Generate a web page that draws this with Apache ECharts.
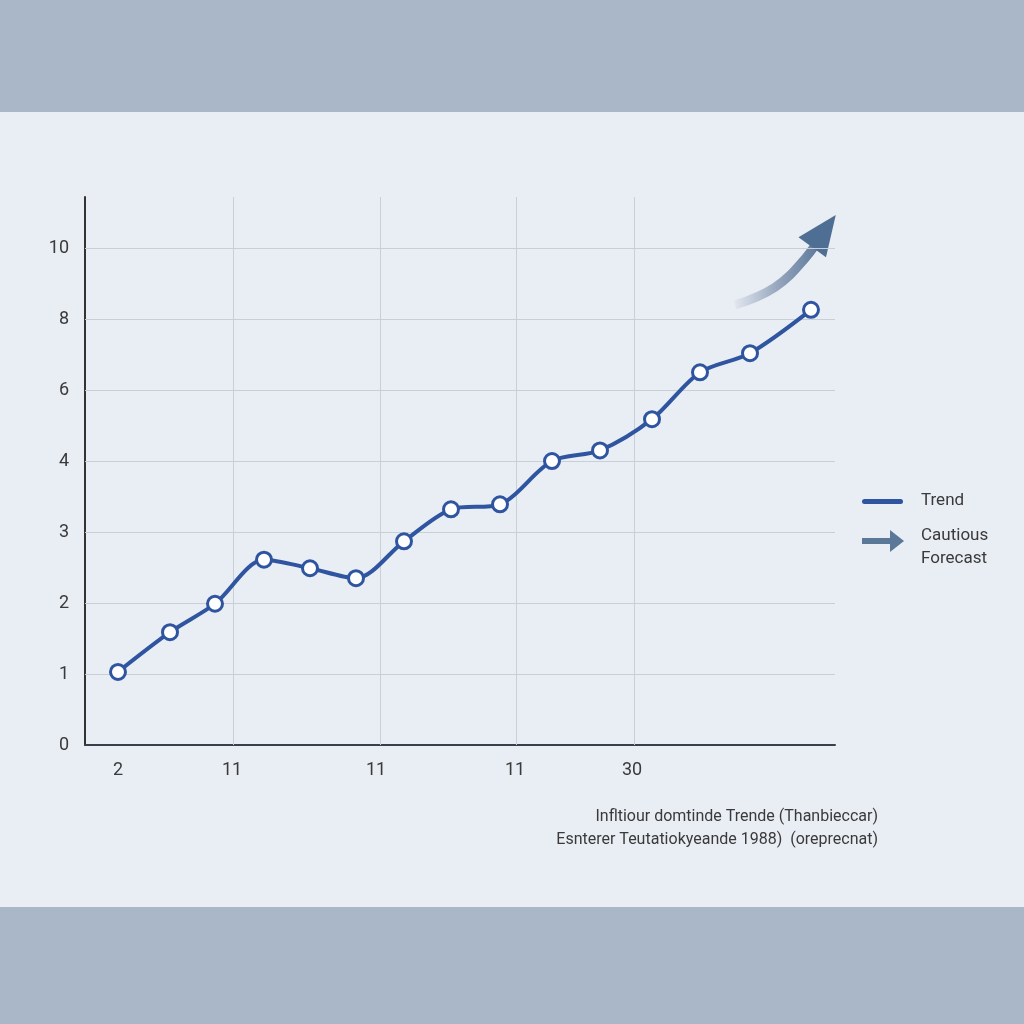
<!DOCTYPE html>
<html>
<head>
<meta charset="utf-8">
<script src="https://cdn.jsdelivr.net/npm/echarts@6/dist/echarts.min.js"></script>
<style>html,body{margin:0;padding:0;background:#e9edf4;}#c{width:1024px;height:1024px;}</style>
</head>
<body>
<div id="c"></div>
<script>
// Tick labels (y axis labels are equally spaced positions 0..7)
const yTickLabels = ['0', '1', '2', '3', '4', '6', '8', '10'];
const yGridPositions = [1, 2, 3, 4, 5, 6, 7];
const xTickPositions = [33, 147, 291, 430, 547];
const xTickLabels = ['2', '11', '11', '11', '30'];
const xGridPositions = [148, 295, 431, 549];

// Trend series (x position, y position on the displayed scale)
const trendX = [33, 85, 130, 179, 225, 271, 319, 366, 415, 467, 515, 567, 615, 665, 726];
const trendY = [1.03, 1.59, 1.99, 2.61, 2.49, 2.35, 2.87, 3.32, 3.39, 4.0, 4.15, 4.59, 5.25, 5.52, 6.13];

// Cautious forecast arrow path
const forecastX = [650, 690, 721, 739];
const forecastY = [6.20, 6.45, 6.87, 7.24];

const footnote1 = 'Infltiour domtinde Trende (Thanbieccar)';
const footnote2 = 'Esnterer Teutatiokyeande 1988)  (oreprecnat)';

const FONT = 'Roboto, "Noto Sans", sans-serif';
const chart = echarts.init(document.getElementById('c'));
const trendData = trendX.map((x, i) => [x, trendY[i]]);
const forecastData = forecastX.map((x, i) => {
  if (i === forecastX.length - 1) {
    return { value: [x, forecastY[i]], symbol: 'triangle', symbolSize: [34, 40], symbolRotate: -36 };
  }
  return { value: [x, forecastY[i]], symbol: 'none' };
});

const option = {
  backgroundColor: '#e9edf4',
  animation: false,
  graphic: [
    { type: 'rect', shape: { x: 0, y: 0, width: 1024, height: 112 }, style: { fill: '#aab7c9' }, z: -10 },
    { type: 'rect', shape: { x: 0, y: 907, width: 1024, height: 117 }, style: { fill: '#aab7c9' }, z: -10 },
    // legend
    { type: 'rect', shape: { x: 862, y: 499, width: 41, height: 5, r: 2.5 }, style: { fill: '#2f55a0' } },
    { type: 'text', style: { x: 921, y: 501, text: 'Trend', font: '17px ' + FONT, fill: '#3a3a3a', textVerticalAlign: 'middle' } },
    { type: 'rect', shape: { x: 862, y: 538, width: 30, height: 6 }, style: { fill: '#5b7898' } },
    { type: 'polygon', shape: { points: [[890, 530], [904, 541], [890, 552]] }, style: { fill: '#5b7898' } },
    { type: 'text', style: { x: 921, y: 536, text: 'Cautious', font: '17px ' + FONT, fill: '#3a3a3a', textVerticalAlign: 'middle' } },
    { type: 'text', style: { x: 921, y: 559, text: 'Forecast', font: '17px ' + FONT, fill: '#3a3a3a', textVerticalAlign: 'middle' } },
    // footnote
    { type: 'text', style: { x: 878, y: 817, text: footnote1, font: '16px ' + FONT, fill: '#3a3a3a', textAlign: 'right', textVerticalAlign: 'middle' } },
    { type: 'text', style: { x: 878, y: 840, text: footnote2, font: '16px ' + FONT, fill: '#3a3a3a', textAlign: 'right', textVerticalAlign: 'middle' } }
  ],
  grid: { left: 85, right: 189, top: 197, bottom: 279, containLabel: false },
  xAxis: {
    type: 'value', min: 0, max: 750,
    axisLine: { show: true, lineStyle: { color: '#3a3f4a', width: 2 } },
    axisTick: { show: false },
    splitLine: { show: false },
    axisLabel: {
      customValues: xTickPositions,
      formatter: (v) => { const i = xTickPositions.indexOf(v); return i >= 0 ? xTickLabels[i] : ''; },
      color: '#3a3a3a', fontSize: 18, margin: 16, fontFamily: FONT
    }
  },
  yAxis: {
    type: 'value', min: 0, max: 7.72, interval: 1,
    axisLine: { show: true, lineStyle: { color: '#333', width: 2 } },
    axisTick: { show: false },
    splitLine: { show: false },
    axisLabel: {
      showMaxLabel: false,
      formatter: (v) => yTickLabels[Math.round(v)] || '',
      color: '#3a3a3a', fontSize: 18, margin: 16, fontFamily: FONT
    }
  },
  series: [
    {
      name: 'Grid', type: 'line', data: [], silent: true,
      markLine: {
        symbol: 'none', silent: true, label: { show: false },
        lineStyle: { color: '#c9ced7', width: 1, type: 'solid' },
        data: xGridPositions.map(x => ({ xAxis: x })).concat(yGridPositions.map(y => ({ yAxis: y })))
      }
    },
    {
      name: 'Cautious Forecast', type: 'line', smooth: 0.4, data: forecastData,
      lineStyle: {
        width: 9,
        color: new echarts.graphic.LinearGradient(0, 0, 1, 0, [
          { offset: 0, color: 'rgba(90,115,150,0)' },
          { offset: 0.5, color: 'rgba(90,115,150,0.6)' },
          { offset: 1, color: '#4e6e93' }
        ])
      },
      itemStyle: { color: '#4e6e93' },
      z: 3
    },
    {
      name: 'Trend', type: 'line', smooth: 0.3, data: trendData,
      symbol: 'circle', symbolSize: 15,
      lineStyle: { color: '#2f55a0', width: 4 },
      itemStyle: { color: '#ffffff', borderColor: '#2f55a0', borderWidth: 3 },
      z: 5
    }
  ]
};
chart.setOption(option);
</script>
</body>
</html>
